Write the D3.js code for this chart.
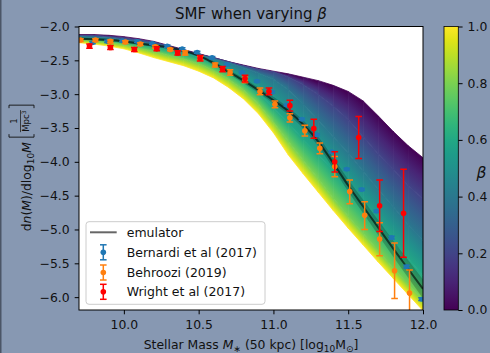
<!DOCTYPE html>
<html>
<head>
<meta charset="utf-8">
<script src="https://cdn.jsdelivr.net/npm/d3@7"></script>
<style>
  html, body { margin: 0; padding: 0; background: #8798b2; }
  svg { display: block; font-family: "DejaVu Sans", sans-serif; }
</style>
</head>
<body>
<div id="chart"></div>
<script>
// model curves for a few beta values
const fanMass  = [9.7, 9.8, 9.9, 10.0, 10.1, 10.2, 10.3, 10.4, 10.5, 10.6, 10.7, 10.8, 10.9, 11.0, 11.1, 11.2, 11.3, 11.4, 11.5, 11.6, 11.7, 11.8, 11.9, 12.0];
const fanBetas = [0, 0.2, 0.4, 0.6, 0.8, 1.0];
const fanBeta00 = [-2.12, -2.12, -2.13, -2.15, -2.18, -2.22, -2.28, -2.34, -2.40, -2.46, -2.52, -2.57, -2.62, -2.66, -2.70, -2.75, -2.80, -2.87, -2.96, -3.10, -3.32, -3.55, -3.76, -3.94];
const fanBeta02 = [-2.13, -2.13, -2.15, -2.17, -2.20, -2.23, -2.29, -2.35, -2.41, -2.46, -2.52, -2.58, -2.63, -2.67, -2.75, -2.86, -3.01, -3.18, -3.38, -3.63, -3.88, -4.11, -4.35, -4.55];
const fanBeta04 = [-2.15, -2.16, -2.17, -2.20, -2.23, -2.26, -2.31, -2.36, -2.41, -2.48, -2.54, -2.61, -2.69, -2.78, -2.94, -3.15, -3.39, -3.63, -3.87, -4.14, -4.40, -4.66, -4.93, -5.16];
const fanBeta06 = [-2.17, -2.18, -2.20, -2.23, -2.26, -2.30, -2.35, -2.40, -2.46, -2.55, -2.66, -2.80, -2.98, -3.20, -3.43, -3.67, -3.89, -4.13, -4.39, -4.65, -4.92, -5.18, -5.43, -5.68];
const fanBeta08 = [-2.20, -2.22, -2.24, -2.27, -2.32, -2.37, -2.43, -2.48, -2.55, -2.65, -2.78, -2.94, -3.14, -3.41, -3.70, -3.98, -4.25, -4.54, -4.80, -5.06, -5.31, -5.57, -5.81, -6.04];
const fanBeta10 = [-2.24, -2.26, -2.29, -2.33, -2.39, -2.46, -2.52, -2.58, -2.66, -2.76, -2.90, -3.07, -3.29, -3.57, -3.90, -4.18, -4.45, -4.72, -4.98, -5.23, -5.48, -5.72, -5.96, -6.20];

// emulator
const emuMass   = fanMass;
const emuValues = [-2.18, -2.19, -2.20, -2.22, -2.25, -2.28, -2.31, -2.36, -2.43, -2.54, -2.67, -2.80, -2.94, -3.09, -3.25, -3.45, -3.70, -4.02, -4.35, -4.66, -4.97, -5.28, -5.58, -5.88];
const emuErr    = [0.02, 0.02, 0.02, 0.02, 0.02, 0.02, 0.02, 0.02, 0.02, 0.03, 0.03, 0.04, 0.04, 0.05, 0.05, 0.06, 0.07, 0.08, 0.09, 0.10, 0.11, 0.12, 0.13, 0.14];

// observations
const bernardiMass   = [9.79, 9.89, 9.99, 10.09, 10.19, 10.29, 10.39, 10.49, 10.59, 10.69, 10.79, 10.89, 10.99, 11.09, 11.19, 11.29, 11.39, 11.49, 11.59, 11.69, 11.79, 11.89, 11.99];
const bernardiValues = [-2.24, -2.22, -2.21, -2.22, -2.25, -2.29, -2.33, -2.38, -2.46, -2.56, -2.68, -2.81, -2.97, -3.16, -3.37, -3.60, -3.85, -4.11, -4.41, -4.73, -5.12, -5.55, -6.03];
const bernardiErr    = [0.015, 0.015, 0.015, 0.015, 0.015, 0.015, 0.015, 0.015, 0.015, 0.015, 0.015, 0.015, 0.015, 0.015, 0.015, 0.015, 0.015, 0.015, 0.015, 0.015, 0.02, 0.02, 0.02];

const behrooziMass    = [9.71, 9.81, 9.91, 10.01, 10.11, 10.21, 10.31, 10.41, 10.51, 10.61, 10.71, 10.81, 10.91, 11.01, 11.11, 11.21, 11.31, 11.41, 11.51, 11.61, 11.71, 11.81, 11.91];
const behrooziValues  = [-2.20, -2.20, -2.22, -2.23, -2.26, -2.30, -2.34, -2.39, -2.47, -2.57, -2.68, -2.79, -2.96, -3.15, -3.35, -3.54, -3.80, -4.07, -4.44, -4.79, -5.14, -5.61, -5.94];
const behrooziErrLow  = [0.02, 0.02, 0.02, 0.02, 0.02, 0.02, 0.02, 0.03, 0.03, 0.03, 0.04, 0.04, 0.05, 0.05, 0.06, 0.08, 0.08, 0.15, 0.18, 0.21, 0.25, 0.41, 0.50];
const behrooziErrHigh = [0.02, 0.02, 0.02, 0.02, 0.02, 0.02, 0.02, 0.03, 0.03, 0.03, 0.04, 0.04, 0.05, 0.05, 0.06, 0.08, 0.08, 0.15, 0.17, 0.20, 0.24, 0.41, 0.34];

const wrightMass   = [9.77, 9.91, 10.07, 10.22, 10.36, 10.51, 10.66, 10.81, 10.97, 11.11, 11.27, 11.41, 11.57, 11.71, 11.87];
const wrightValues = [-2.29, -2.31, -2.34, -2.33, -2.39, -2.47, -2.63, -2.77, -2.96, -3.17, -3.51, -4.00, -3.64, -4.65, -4.76];
const wrightErr    = [0.03, 0.03, 0.03, 0.03, 0.03, 0.04, 0.04, 0.05, 0.05, 0.08, 0.14, 0.15, 0.31, 0.38, 0.65];

const xTicks = [10.0, 10.5, 11.0, 11.5, 12.0];
const yTicks = [-2.0, -2.5, -3.0, -3.5, -4.0, -4.5, -5.0, -5.5, -6.0];
const cbarTicks = [0.0, 0.2, 0.4, 0.6, 0.8, 1.0];

const width = 490, height = 353;
const pL = 79, pR = 423, pT = 26.5, pB = 310;
const fontSize = 12.4;

const svg = d3.select("#chart").append("svg")
  .attr("width", width)
  .attr("height", height);

svg.append("rect").attr("width", width).attr("height", height).attr("fill", "#8798b2");
svg.append("rect").attr("width", 1.5).attr("height", height).attr("fill", "#4b5566");

const x = d3.scaleLinear().domain([9.7, 12.0]).range([pL, pR]);
const y = d3.scaleLinear().domain([-6.19, -2.0]).range([pB, pT]);

const defs = svg.append("defs");
defs.append("clipPath").attr("id", "plotClip")
  .append("rect")
  .attr("x", pL).attr("y", pT)
  .attr("width", pR - pL).attr("height", pB - pT);

svg.append("rect")
  .attr("x", pL).attr("y", pT)
  .attr("width", pR - pL).attr("height", pB - pT)
  .attr("fill", "#fff");

const plot = svg.append("g").attr("clip-path", "url(#plotClip)");

// fan: each band between two beta curves, shaded across its width
const fanCurves = [fanBeta00, fanBeta02, fanBeta04, fanBeta06, fanBeta08, fanBeta10];
const fan = plot.append("g");
for (let b = 0; b < fanCurves.length - 1; b++) {
  const b0 = fanBetas[b], b1 = fanBetas[b + 1];
  const upper = fanCurves[b], lower = fanCurves[b + 1];
  for (let j = 0; j < fanMass.length - 1; j++) {
    const xa = x(fanMass[j]), xb = x(fanMass[j + 1]);
    const ta = y(upper[j]), tb = y(upper[j + 1]);
    const ba = y(lower[j]), bb = y(lower[j + 1]);
    const dx = xb - xa, dy = ((tb - ta) + (bb - ba)) / 2;
    const len = Math.hypot(dx, dy);
    const nx = -dy / len, ny = dx / len;
    const tx = (xa + xb) / 2, ty = (ta + tb) / 2, by = (ba + bb) / 2;
    const h = Math.max((by - ty) * ny, 0.05);
    const id = `fan${b}_${j}`;
    const grad = defs.append("linearGradient")
      .attr("id", id)
      .attr("gradientUnits", "userSpaceOnUse")
      .attr("x1", tx).attr("y1", ty)
      .attr("x2", tx + nx * h).attr("y2", ty + ny * h);
    [0, 0.5, 1].forEach(t => grad.append("stop")
      .attr("offset", t)
      .attr("stop-color", d3.interpolateViridis(b0 + (b1 - b0) * t)));
    fan.append("path")
      .attr("d", `M${xa},${ta}L${xb},${tb}L${xb},${bb}L${xa},${ba}Z`)
      .attr("fill", `url(#${id})`)
      .attr("stroke", `url(#${id})`)
      .attr("stroke-width", 0.8);
  }
}

// emulator band + line
const emuArea = d3.area()
  .x((d, i) => x(emuMass[i]))
  .y0((d, i) => y(d - emuErr[i]))
  .y1((d, i) => y(d + emuErr[i]))
  .curve(d3.curveMonotoneX);
plot.append("path").datum(emuValues)
  .attr("d", emuArea)
  .attr("fill", "#000")
  .attr("fill-opacity", 0.2);

const emuLine = d3.line()
  .x((d, i) => x(emuMass[i]))
  .y(d => y(d))
  .curve(d3.curveMonotoneX);
plot.append("path").datum(emuValues)
  .attr("d", emuLine)
  .attr("fill", "none")
  .attr("stroke", "#000")
  .attr("stroke-opacity", 0.6)
  .attr("stroke-width", 2);

function errorbars(mass, values, errLow, errHigh, color, r) {
  const data = mass.map((m, i) => ({ m: m, v: values[i], lo: errLow[i], hi: errHigh[i] }));
  const g = plot.append("g").attr("stroke", color).attr("fill", color);
  const cap = 3.3;
  const pts = g.selectAll("g").data(data).enter().append("g");
  pts.append("line")
    .attr("x1", d => x(d.m)).attr("x2", d => x(d.m))
    .attr("y1", d => y(d.v - d.lo)).attr("y2", d => y(d.v + d.hi))
    .attr("stroke-width", 1.5);
  pts.append("line")
    .attr("x1", d => x(d.m) - cap).attr("x2", d => x(d.m) + cap)
    .attr("y1", d => y(d.v - d.lo)).attr("y2", d => y(d.v - d.lo))
    .attr("stroke-width", 1.5);
  pts.append("line")
    .attr("x1", d => x(d.m) - cap).attr("x2", d => x(d.m) + cap)
    .attr("y1", d => y(d.v + d.hi)).attr("y2", d => y(d.v + d.hi))
    .attr("stroke-width", 1.5);
  pts.append("circle")
    .attr("cx", d => x(d.m)).attr("cy", d => y(d.v))
    .attr("r", r).attr("stroke", "none");
}

errorbars(bernardiMass, bernardiValues, bernardiErr, bernardiErr, "#1f77b4", 2.5);
errorbars(behrooziMass, behrooziValues, behrooziErrLow, behrooziErrHigh, "#ff7f0e", 2.8);
errorbars(wrightMass, wrightValues, wrightErr, wrightErr, "#ff0000", 2.8);

// frame
svg.append("rect")
  .attr("x", pL).attr("y", pT)
  .attr("width", pR - pL).attr("height", pB - pT)
  .attr("fill", "none").attr("stroke", "#000").attr("stroke-width", 1);

const fmt = d3.format(".1f");

const xAxis = svg.append("g")
  .attr("transform", `translate(0,${pB})`)
  .call(d3.axisBottom(x).tickValues(xTicks).tickFormat(fmt).tickSize(4.3).tickPadding(6).tickSizeOuter(0));
const yAxis = svg.append("g")
  .attr("transform", `translate(${pL},0)`)
  .call(d3.axisLeft(y).tickValues(yTicks).tickFormat(fmt).tickSize(4.3).tickPadding(5).tickSizeOuter(0));
[xAxis, yAxis].forEach(a => {
  a.select(".domain").remove();
  a.selectAll("text").style("font-size", fontSize + "px").attr("fill", "#111").style("font-family", "DejaVu Sans");
  a.selectAll("line").attr("stroke", "#000");
});

// title
const title = svg.append("text")
  .attr("x", (pL + pR) / 2).attr("y", 18.5)
  .attr("text-anchor", "middle")
  .style("font-size", "15px")
  .attr("fill", "#111");
title.append("tspan").text("SMF when varying ");
title.append("tspan").style("font-style", "italic").text("β");

// x label
const xl = svg.append("text")
  .attr("x", (pL + pR) / 2).attr("y", 349)
  .attr("text-anchor", "middle")
  .style("font-size", fontSize + "px")
  .attr("fill", "#111");
xl.append("tspan").text("Stellar Mass ");
xl.append("tspan").style("font-style", "italic").text("M");
xl.append("tspan").attr("dy", 2.5).style("font-size", "9px").text("∗");
xl.append("tspan").attr("dy", -2.5).text(" (50 kpc) [log");
xl.append("tspan").attr("dy", 2.5).style("font-size", "9px").text("10");
xl.append("tspan").attr("dy", -2.5).text("M");
xl.append("tspan").attr("dy", 2.5).style("font-size", "9px").text("⊙");
xl.append("tspan").attr("dy", -2.5).text("]");

// y label (rotated)
const yl = svg.append("g");
const ylText = yl.append("text")
  .attr("x", 0).attr("y", 0)
  .style("font-size", fontSize + "px")
  .attr("fill", "#111");
ylText.append("tspan").text("d");
ylText.append("tspan").style("font-style", "italic").text("n");
ylText.append("tspan").text("(");
ylText.append("tspan").style("font-style", "italic").text("M");
ylText.append("tspan").text(")/dlog");
ylText.append("tspan").attr("dy", 2.5).style("font-size", "9px").text("10");
ylText.append("tspan").attr("dy", -2.5).style("font-style", "italic").text("M");
const mainLen = ylText.node().getComputedTextLength();
const fx = mainLen + 5;
const fracW = 22;
yl.append("path")
  .attr("d", `M${fx + 3},-22H${fx}V3H${fx + 3}`)
  .attr("fill", "none").attr("stroke", "#111").attr("stroke-width", 0.9);
yl.append("text")
  .attr("x", fx + 5 + fracW / 2).attr("y", -14)
  .attr("text-anchor", "middle")
  .style("font-size", "8.5px").attr("fill", "#111")
  .text("1");
yl.append("line")
  .attr("x1", fx + 5).attr("x2", fx + 5 + fracW)
  .attr("y1", -10.5).attr("y2", -10.5)
  .attr("stroke", "#111").attr("stroke-width", 0.7);
const den = yl.append("text")
  .attr("x", fx + 5 + fracW / 2).attr("y", -2.5)
  .attr("text-anchor", "middle")
  .style("font-size", "8.5px").attr("fill", "#111");
den.append("tspan").text("Mpc");
den.append("tspan").attr("dy", -3).style("font-size", "6px").text("3");
const fe = fx + 5 + fracW + 2;
yl.append("path")
  .attr("d", `M${fe},-22H${fe + 3}V3H${fe}`)
  .attr("fill", "none").attr("stroke", "#111").attr("stroke-width", 0.9);
const totalLen = fe + 3;
yl.attr("transform", `translate(31,${(pT + pB) / 2 + totalLen / 2}) rotate(-90)`);

// colorbar
const cbX = 444, cbW = 14.3;
const c = d3.scaleLinear().domain([0, 1]).range([pB, pT]);
const cbGrad = defs.append("linearGradient")
  .attr("id", "cbGrad")
  .attr("x1", 0).attr("y1", 1).attr("x2", 0).attr("y2", 0);
d3.range(0, 1.0001, 0.05).forEach(t => cbGrad.append("stop")
  .attr("offset", t)
  .attr("stop-color", d3.interpolateViridis(t)));
svg.append("rect")
  .attr("x", cbX).attr("y", pT)
  .attr("width", cbW).attr("height", pB - pT)
  .attr("fill", "url(#cbGrad)")
  .attr("stroke", "#000").attr("stroke-width", 0.8);
const cAxis = svg.append("g")
  .attr("transform", `translate(${cbX + cbW},0)`)
  .call(d3.axisRight(c).tickValues(cbarTicks).tickFormat(fmt).tickSize(4.3).tickPadding(5).tickSizeOuter(0));
cAxis.select(".domain").remove();
cAxis.selectAll("text").style("font-size", fontSize + "px").attr("fill", "#111").style("font-family", "DejaVu Sans");
cAxis.selectAll("line").attr("stroke", "#000");

svg.append("text")
  .attr("x", 481.5).attr("y", 178)
  .attr("text-anchor", "middle")
  .style("font-size", "15.5px")
  .style("font-style", "italic")
  .attr("fill", "#111")
  .text("β");

// legend
const legend = svg.append("g");
legend.append("rect")
  .attr("x", 86).attr("y", 221.7)
  .attr("width", 179).attr("height", 82.6)
  .attr("rx", 3)
  .attr("fill", "#fff").attr("fill-opacity", 0.8)
  .attr("stroke", "#cccccc").attr("stroke-width", 1);

const legendRows = [
  { label: "emulator", y: 232.3, kind: "line" },
  { label: "Bernardi et al (2017)", y: 252.3, kind: "err", color: "#1f77b4" },
  { label: "Behroozi (2019)", y: 272.5, kind: "err", color: "#ff7f0e" },
  { label: "Wright et al (2017)", y: 291.8, kind: "err", color: "#ff0000" }
];
legendRows.forEach(row => {
  if (row.kind === "line") {
    legend.append("line")
      .attr("x1", 90).attr("x2", 116.7)
      .attr("y1", row.y).attr("y2", row.y)
      .attr("stroke", "#000").attr("stroke-opacity", 0.6).attr("stroke-width", 2);
  } else {
    const cx = 103.3;
    const g = legend.append("g").attr("stroke", row.color).attr("fill", row.color);
    g.append("line").attr("x1", cx).attr("x2", cx).attr("y1", row.y - 7.5).attr("y2", row.y + 7.5).attr("stroke-width", 1.5);
    g.append("line").attr("x1", cx - 3.3).attr("x2", cx + 3.3).attr("y1", row.y - 7.5).attr("y2", row.y - 7.5).attr("stroke-width", 1.5);
    g.append("line").attr("x1", cx - 3.3).attr("x2", cx + 3.3).attr("y1", row.y + 7.5).attr("y2", row.y + 7.5).attr("stroke-width", 1.5);
    g.append("circle").attr("cx", cx).attr("cy", row.y).attr("r", 2.8).attr("stroke", "none");
  }
  legend.append("text")
    .attr("x", 126.7).attr("y", row.y + 4.4)
    .style("font-size", "12.5px")
    .attr("fill", "#111")
    .text(row.label);
});
</script>
</body>
</html>
